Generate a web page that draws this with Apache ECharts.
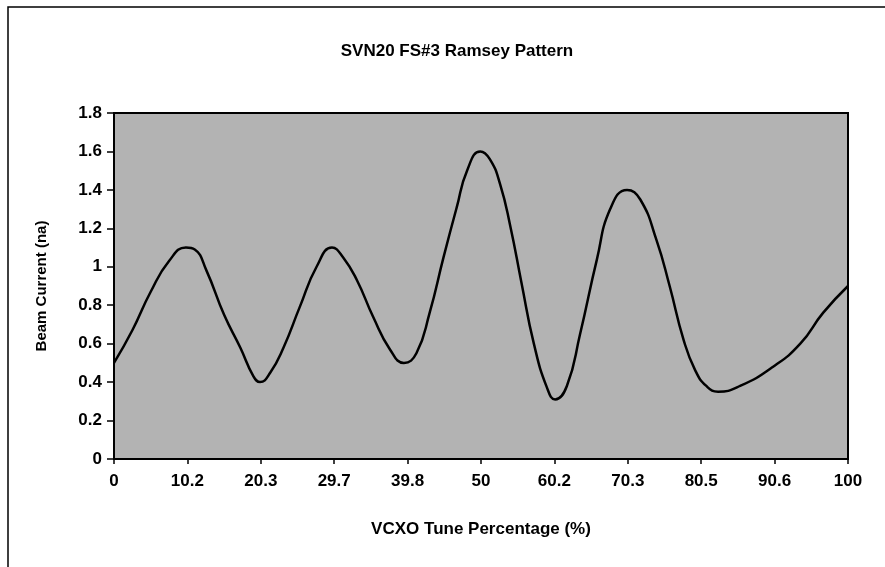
<!DOCTYPE html>
<html>
<head>
<meta charset="utf-8">
<script src="https://cdn.jsdelivr.net/npm/echarts@6/dist/echarts.min.js"></script>
<style>
    html, body { margin: 0; padding: 0; background: #fff; }
    #cn1 { width: 885px; height: 567px; }
</style>
</head>
<body>
<div id="cn1"></div>
<script>
'use strict';

// tick labels shown under the x axis (evenly spaced in the original)
const arrTickLabel = ['0', '10.2', '20.3', '29.7', '39.8', '50', '60.2', '70.3', '80.5', '90.6', '100'];

// position along the axis (0..100 = first..last tick) and beam current
const arrPos = [0, 2.5, 5, 7.5, 9.8, 11, 12.6, 15, 17.2, 19.0, 19.9, 21.3, 23.1, 25.3, 27.6, 29.7,
    31.2, 33.1, 35.3, 37.6, 39.5, 41.2, 43, 44.9, 46.7, 48.1, 49.9, 51.2, 52.6, 54, 55.5,
    57.2, 59, 60.1, 61.7, 63.5, 65.8, 67.6, 69.9, 71.7, 73.9, 75.7, 77.6, 79.2, 80.7, 82.3,
    85.3, 89.8, 93.5, 96.6, 100];
const arrCurrent = [0.5, 0.67, 0.87, 1.03, 1.1, 1.09, 0.98, 0.75, 0.58, 0.43, 0.4, 0.45, 0.58, 0.79, 1.0, 1.1,
    1.05, 0.93, 0.74, 0.57, 0.5, 0.55, 0.76, 1.05, 1.31, 1.5, 1.6, 1.56, 1.43, 1.21, 0.92,
    0.6, 0.37, 0.31, 0.38, 0.65, 1.04, 1.3, 1.4, 1.35, 1.14, 0.9, 0.62, 0.46, 0.38, 0.35,
    0.38, 0.48, 0.6, 0.76, 0.9];

const strFont = '"Liberation Sans", Arial, sans-serif';

const echartsRamsey = echarts.init(cn1);

const optionRamsey = {
    animation: false,
    backgroundColor: '#ffffff',
    title: {
        text: 'SVN20 FS#3 Ramsey Pattern',
        left: 452,
        textAlign: 'center',
        top: 38,
        textStyle: {
            fontFamily: strFont,
            fontSize: 17,
            fontWeight: 'bold',
            color: '#000'
        }
    },
    grid: {
        left: 114,
        right: 37,
        top: 113,
        bottom: 108,
        show: true,
        backgroundColor: '#b3b3b3',
        borderColor: '#000',
        borderWidth: 2
    },
    xAxis: {
        type: 'value',
        min: 0,
        max: 100,
        interval: 10,
        name: 'VCXO Tune Percentage (%)',
        nameLocation: 'middle',
        nameGap: 62,
        nameTextStyle: {
            fontFamily: strFont,
            fontSize: 17,
            fontWeight: 'bold',
            color: '#000'
        },
        axisLine: { lineStyle: { color: '#000', width: 2 } },
        axisTick: { show: true, length: 5, lineStyle: { color: '#000', width: 1.5 } },
        splitLine: { show: false },
        axisLabel: {
            margin: 14,
            fontFamily: strFont,
            fontSize: 17,
            fontWeight: 'bold',
            color: '#000',
            formatter: (val) => arrTickLabel[Math.round(val / 10)]
        }
    },
    yAxis: {
        type: 'value',
        min: 0,
        max: 1.8,
        interval: 0.2,
        name: 'Beam Current (na)',
        nameLocation: 'middle',
        nameGap: 65,
        nameTextStyle: {
            fontFamily: strFont,
            fontSize: 15,
            fontWeight: 'bold',
            color: '#000'
        },
        axisLine: { show: true, lineStyle: { color: '#000', width: 2 } },
        axisTick: { show: true, length: 7, lineStyle: { color: '#000', width: 1.5 } },
        splitLine: { show: false },
        axisLabel: {
            margin: 12,
            fontFamily: strFont,
            fontSize: 17,
            fontWeight: 'bold',
            color: '#000',
            formatter: (val) => String(Math.round(val * 10) / 10)
        }
    },
    series: [{
        name: 'Beam Current',
        type: 'line',
        smooth: 0.5,
        symbol: 'none',
        lineStyle: { color: '#000', width: 2.5 },
        data: arrPos.map((x, i) => [x, arrCurrent[i]])
    }],
    // outer chart frame (left and top edges visible in the scan)
    graphic: [{
        type: 'polyline',
        shape: { points: [[8, 567], [8, 7], [885, 7]] },
        style: { stroke: '#000', lineWidth: 1.5, fill: null }
    }]
};

echartsRamsey.setOption(optionRamsey);
</script>
</body>
</html>
